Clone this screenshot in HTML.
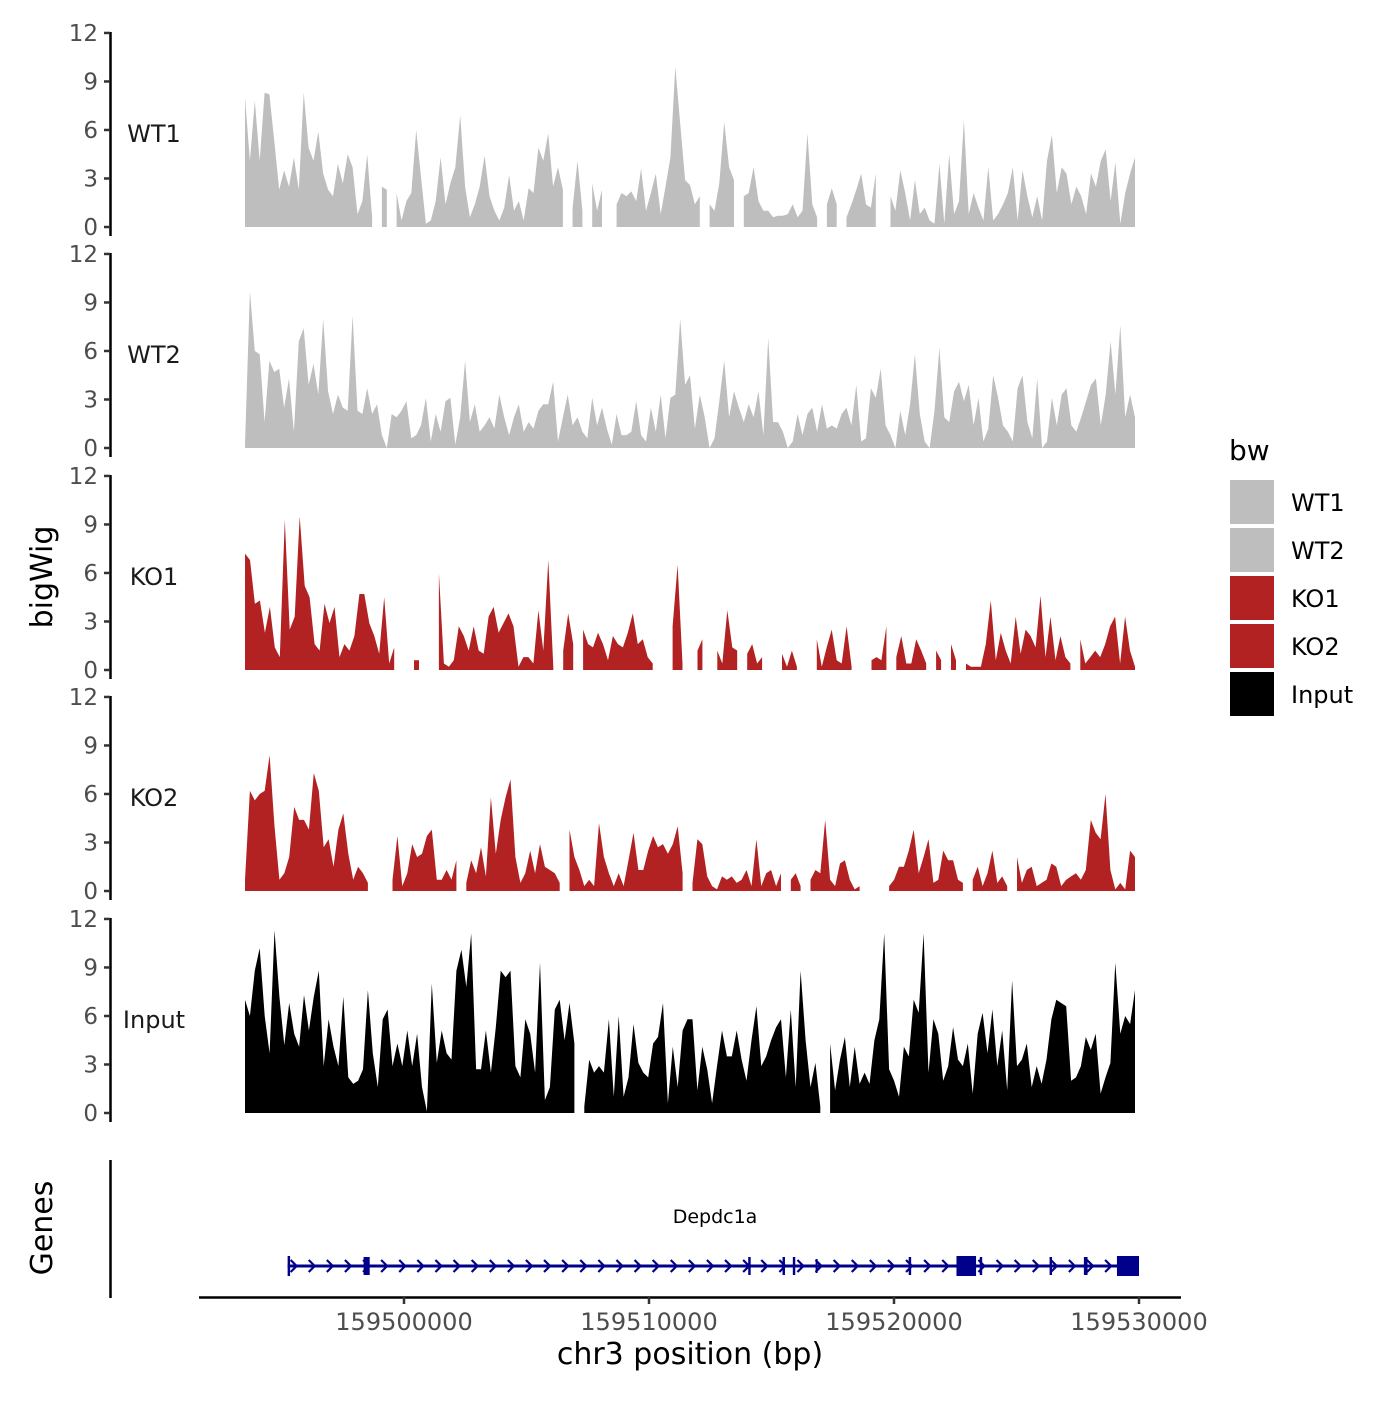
<!DOCTYPE html>
<html><head><meta charset="utf-8"><style>
body{margin:0;background:#fff}
svg text{font-family:"DejaVu Sans","Liberation Sans",sans-serif}
</style></head><body>
<svg id="chart" width="1400" height="1400" viewBox="0 0 1400 1400" xmlns="http://www.w3.org/2000/svg">
<rect width="1400" height="1400" fill="#fff"/>
<g id="tracks"></g>
<g id="genes"></g>
<g id="xaxis"></g>
<text transform="translate(52,577) rotate(-90)" text-anchor="middle" font-size="30" fill="#000">bigWig</text>
<text transform="translate(52,1228) rotate(-90)" text-anchor="middle" font-size="30" fill="#000">Genes</text>
<text x="690" y="1364" text-anchor="middle" font-size="30" fill="#000">chr3 position (bp)</text>
<g>
<text x="1229" y="460" font-size="28" fill="#000">bw</text>
<g id="legend"></g>
</g>
</svg>
<script>
const trackNames=["WT1","WT2","KO1","KO2","Input"];
const trackColors=["#bebebe","#bebebe","#b22222","#b22222","#000000"];
const yTicks=[0,3,6,9,12];
const xTicks=[159500000,159510000,159520000,159530000];
const startBp=159493510, endBp=159529837;
const N=null;
const wt1=[8.0,4.1,7.8,4.1,8.3,8.2,5.3,2.3,3.5,2.5,4.3,2.3,8.3,4.9,4.1,5.9,3.3,2.3,1.9,3.9,2.7,4.5,3.7,0.8,1.6,4.5,0.6,N,2.5,2.3,N,2.1,0.4,1.6,2.1,6.0,3.1,0.2,0.4,1.6,4.3,1.4,2.7,3.7,6.9,2.5,0.6,1.4,2.5,4.4,1.9,1.0,0.4,1.2,3.2,1.0,1.6,0.4,2.4,2.1,4.9,4.1,5.8,2.5,3.7,2.3,N,1.2,4.1,1.0,N,2.7,1.0,2.3,N,N,1.4,2.1,1.9,2.2,1.6,3.6,1.0,2.1,3.3,0.8,2.5,4.3,9.9,6.4,2.9,2.6,1.4,1.9,N,1.4,1.0,2.7,6.5,3.7,2.9,N,1.9,2.1,3.7,1.6,1.0,1.0,0.6,0.7,0.7,0.8,1.4,0.6,1.0,5.8,1.4,0.6,N,1.4,2.4,1.4,N,0.6,1.4,2.3,3.3,1.4,1.2,3.3,N,N,1.9,1.0,3.5,2.1,0.4,2.9,0.8,1.2,0.4,0.2,3.9,0.2,4.5,0.8,1.6,6.6,0.8,2.1,1.2,0.4,3.7,0.4,0.8,1.4,2.1,3.7,0.4,3.5,1.9,0.6,1.9,0.4,4.1,5.7,2.1,3.7,3.3,1.4,2.5,1.9,0.8,3.3,2.5,4.1,4.8,1.6,4.0,0.2,2.1,3.3,4.3];
const wt2=[0.2,9.7,6.0,5.8,1.6,5.4,4.7,4.9,2.5,4.3,1.0,6.6,7.4,3.9,5.2,3.3,8.0,3.5,2.1,3.3,2.5,2.3,8.2,2.3,2.1,3.7,2.1,2.7,0.8,0,2.1,1.9,2.3,2.9,0.6,0.8,1.4,3.1,0.4,2.1,1.0,2.9,3.1,0.2,1.9,5.4,1.6,2.7,1.0,1.4,1.9,1.2,3.3,1.9,0.8,1.9,2.7,1.0,1.6,1.2,2.3,2.7,2.7,4.1,0.4,1.9,3.3,1.4,1.9,1.0,0.6,3.1,1.4,2.5,1.2,0.2,2.1,0.8,0.8,1.0,2.9,0.8,0.4,2.5,1.0,3.3,0.6,3.1,3.3,8.0,3.9,4.5,1.2,3.3,1.9,0,0.6,2.9,5.4,1.9,3.5,2.5,1.6,2.7,1.9,3.5,0.8,6.8,1.6,1.6,1.0,0,0.4,2.1,0.8,2.1,2.5,1.0,2.7,1.2,1.4,1.2,2.1,2.5,1.4,3.9,0.4,0.6,3.7,3.1,4.9,1.4,0.8,0,2.3,0.8,2.7,5.8,2.1,0.4,0,2.3,6.2,1.9,1.6,3.5,4.1,2.9,3.9,1.4,3.1,0.4,1.2,4.5,3.1,1.4,1.0,0.4,3.7,4.5,1.6,0.6,4.3,0,0.4,3.1,1.4,3.3,3.7,1.4,1.0,1.9,2.9,3.9,4.3,1.4,3.3,6.6,3.3,7.6,1.9,3.3,1.9];
const ko1=[7.2,6.8,4.1,4.3,2.3,3.9,1.4,0.8,9.3,2.5,3.3,9.5,5.2,4.5,1.6,1.2,4.1,2.9,3.9,0.8,1.6,1.2,2.1,4.7,4.7,2.9,2.1,1.0,4.5,0.4,1.4,N,N,N,0.6,0.6,N,N,N,6.0,0.4,0.2,0.6,2.7,2.1,1.2,2.7,1.2,1.0,3.3,3.9,2.3,2.9,3.5,2.7,0.2,0.8,0.8,0.4,3.7,1.2,6.8,0.2,N,1.2,3.5,1.6,N,2.5,1.6,1.4,2.3,1.6,0.6,2.1,1.6,1.4,2.3,3.5,1.6,1.9,0.8,0.4,N,N,N,2.7,6.5,0.4,N,N,1.2,1.9,N,N,1.2,0.4,3.7,1.4,1.2,N,1.0,1.6,0.4,0.8,N,N,N,1.0,0.2,1.2,0.2,N,0.6,N,1.9,0.2,1.4,2.5,0.6,0.4,2.7,0.2,N,N,N,0.6,0.8,0.6,2.7,N,0.8,2.1,0.4,0.4,1.9,1.2,0.4,N,1.2,0.6,N,1.6,0.6,N,0.4,0.2,0.2,0.2,1.6,4.3,0.6,2.3,1.2,0.4,3.3,1.0,2.5,2.1,1.4,4.6,0.8,3.3,0.6,2.1,0.8,0.4,N,1.9,0.4,0.8,1.2,0.8,1.6,2.7,3.3,0.4,3.3,1.2,0.2];
const ko2=[0.7,6.2,5.6,6.0,6.2,8.4,4.0,0.7,1.1,2.1,5.2,4.4,4.4,3.8,7.3,6.2,2.7,3.2,1.5,3.8,4.8,2.3,0.7,1.5,1.1,0.5,N,0.5,N,N,0.7,3.4,0.3,1.1,2.9,2.1,2.3,3.4,3.8,0.7,0.7,1.3,0.7,1.9,N,0.5,1.9,1.1,2.7,0.9,5.8,2.3,4.4,5.8,6.9,2.1,0.5,1.1,2.5,1.1,2.9,1.5,1.3,1.1,0.5,N,3.8,2.1,1.3,0.3,0.7,0.3,4.2,2.1,1.1,0.3,1.1,0.3,1.9,3.6,1.3,1.3,2.5,3.4,2.7,2.9,2.3,2.9,4.0,1.1,N,0.5,3.2,2.9,0.9,0.3,0.1,0.9,0.7,0.9,0.5,0.7,1.3,0.3,3.2,0.3,1.1,1.3,0.3,1.1,N,0.7,1.1,0.3,N,0.7,1.3,1.1,4.4,0.7,0.3,1.7,1.9,0.7,0.1,0.3,N,N,N,N,N,0.3,0.7,1.5,1.5,2.5,3.8,1.1,2.1,3.2,0.5,0.7,2.5,1.9,1.9,0.7,0.5,N,0.7,1.5,0.3,1.1,2.5,0.5,0.9,0.3,N,2.1,0.5,1.3,1.5,0.3,0.5,0.7,1.7,1.5,0.3,0.7,0.9,1.1,0.7,1.3,4.4,3.6,3.2,6.0,1.3,0.1,0.5,0.1,2.5,2.1];
const inputVals=[7.0,6.0,8.8,10.2,6.0,3.7,11.3,7.2,4.2,6.8,4.9,4.1,7.3,5.1,7.2,8.8,2.9,5.8,4.1,2.9,7.2,2.2,1.8,2.0,2.7,7.6,3.7,1.6,5.8,6.4,2.9,4.3,2.9,5.1,2.9,4.9,1.6,0.1,8.0,3.1,5.1,3.7,3.3,8.8,10.1,7.8,11.1,2.7,2.7,5.1,2.5,5.3,8.8,8.4,8.8,2.9,2.2,5.8,4.9,2.5,9.3,0.8,1.6,6.4,7.0,4.5,6.8,4.3,N,0.4,3.3,2.5,2.9,2.5,5.8,1.0,6.0,1.0,2.2,5.5,3.1,2.5,2.2,4.3,4.7,6.8,0.6,4.1,1.6,5.1,5.8,5.8,1.4,4.1,2.7,0.6,2.9,5.1,3.5,3.5,5.1,3.3,2.0,4.5,6.6,2.9,3.5,4.5,5.3,5.8,2.2,6.4,1.6,8.8,4.5,1.6,3.1,0.4,N,4.3,1.4,3.3,4.7,1.6,4.1,1.8,2.5,1.8,4.5,5.8,11.1,2.7,2.0,1.0,4.1,3.5,7.0,6.2,11.1,2.5,5.8,4.9,2.0,2.9,5.3,3.3,2.9,4.3,1.2,4.9,6.2,3.7,6.4,2.9,5.1,1.4,8.2,2.9,3.3,4.3,1.6,2.9,1.8,3.3,5.8,7.0,6.8,6.6,2.0,2.2,2.9,4.7,3.9,4.9,1.2,2.2,3.1,9.3,4.9,6.0,5.5,7.6];
const trackValues=[wt1,wt2,ko1,ko2,inputVals];
const exonStarts=[159495250,159498350,159514050,159515450,159515870,159516800,159520600,159522550,159523500,159526350,159527750,159529100];
const exonEnds=[159495350,159498600,159514150,159515550,159515970,159516840,159520700,159523350,159523600,159526450,159527900,159530000];
const exonHeights=[20,18,18,18,18,14,18,20,18,18,18,20];

const NS="http://www.w3.org/2000/svg";
function xs(bp){return 404+(bp-159500000)*0.0245;}
const zeroYs=[227,448,670,891,1113];
const pxPerUnit=16.17;
function mk(tag,attrs,parent){const e=document.createElementNS(NS,tag);for(const k in attrs)e.setAttribute(k,attrs[k]);parent.appendChild(e);return e;}
const tracks=document.getElementById('tracks');
trackNames.forEach((name,t)=>{
  const g=mk('g',{},tracks);
  
  
  const y0=zeroYs[t];
  const ys=v=>y0-v*pxPerUnit;
  const vals=trackValues[t];
  const n=vals.length;
  const bpAt=i=>startBp+i*(endBp-startBp)/(n-1);
  let d='',seg=[];
  const flush=()=>{if(seg.length){
    const xa=xs(bpAt(seg[0])),xb=xs(bpAt(seg[seg.length-1]));
    d+='M'+xa.toFixed(1)+' '+y0;
    seg.forEach(i=>{d+='L'+xs(bpAt(i)).toFixed(1)+' '+ys(vals[i]).toFixed(1);});
    d+='L'+xb.toFixed(1)+' '+y0+'Z';seg=[];}};
  vals.forEach((v,i)=>{if(v===null)flush();else seg.push(i);});flush();
  const area=mk('path',{d:d,fill:trackColors[t]},g);
  
  
  const ax=mk('line',{x1:110.5,x2:110.5,y1:ys(12)-1,y2:y0+9,stroke:'#000','stroke-width':2.5},g);
  
  
  yTicks.forEach(v=>{
    mk('line',{x1:104,x2:110,y1:ys(v),y2:ys(v),stroke:'#333','stroke-width':2.5},g);
    const tx=mk('text',{x:98,y:ys(v)+8,'text-anchor':'end','font-size':23,fill:'#4d4d4d'},g);
    tx.textContent=v;
    
    
  });
  const lb=mk('text',{x:154,y:y0-85,'text-anchor':'middle','font-size':24,fill:'#1a1a1a'},g);
  lb.textContent=name;
  
  
});
// genes
const genes=document.getElementById('genes');
const gl=mk('line',{x1:110.5,x2:110.5,y1:1160,y2:1298,stroke:'#000','stroke-width':2.5},genes);


const gy=1266;
const gStart=159495250,gEnd=159530000;
const gline=mk('line',{x1:xs(gStart),x2:xs(gEnd),y1:gy,y2:gy,stroke:'#00008b','stroke-width':3},genes);


for(let x=xs(gStart)+6;x<xs(gEnd)-4;x+=18.1){
  mk('path',{d:`M${x-3} ${gy-6}L${x+3} ${gy}L${x-3} ${gy+6}`,stroke:'#00008b','stroke-width':2.2,fill:'none'},genes);
}
exonStarts.forEach((s,i)=>{
  const x1=xs(s),x2=xs(exonEnds[i]),h=exonHeights[i];
  const r=mk('rect',{x:x1,y:gy-h/2,width:Math.max(2,x2-x1),height:h,fill:'#00008b'},genes);
  
  
});
const gt=mk('text',{x:715,y:1223,'text-anchor':'middle','font-size':19,fill:'#000','font-family':'"DejaVu Sans Mono","Liberation Mono",monospace'},genes);
gt.textContent='Depdc1a';


// x axis
const xa=document.getElementById('xaxis');
const xl=mk('line',{x1:199,x2:1181,y1:1297.5,y2:1297.5,stroke:'#000','stroke-width':2.5},xa);


xTicks.forEach(b=>{
  mk('line',{x1:xs(b),x2:xs(b),y1:1297,y2:1304,stroke:'#333','stroke-width':2.5},xa);
  const tx=mk('text',{x:xs(b),y:1330,'text-anchor':'middle','font-size':24,fill:'#4d4d4d'},xa);
  tx.textContent=b;
  
  
});
// legend
const lg=document.getElementById('legend');
trackNames.forEach((name,i)=>{
  const y=480+i*48;
  const r=mk('rect',{x:1230,y:y,width:44,height:44,fill:trackColors[i]},lg);
  
  
  const tx=mk('text',{x:1291,y:y+31,'font-size':24,fill:'#000'},lg);
  tx.textContent=name;
  
  
});
</script>
</body></html>
